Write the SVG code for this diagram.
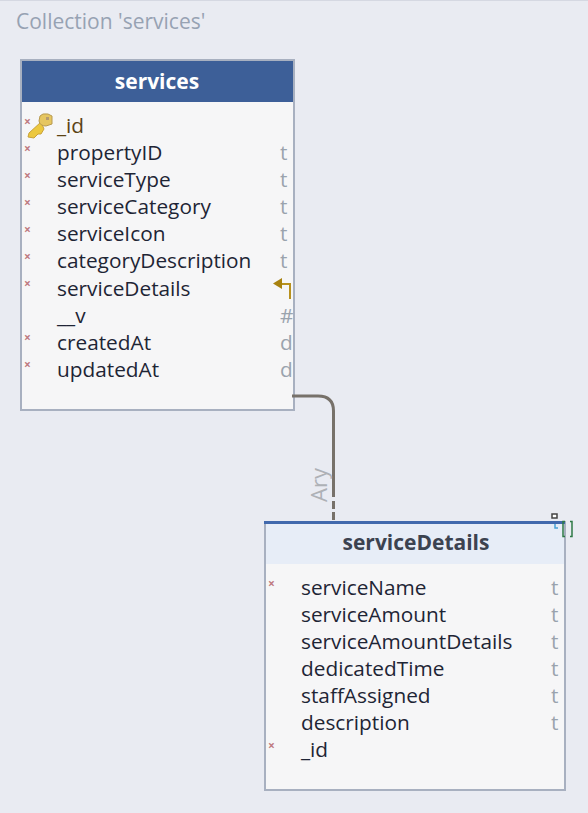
<svg xmlns="http://www.w3.org/2000/svg" width="588" height="813" viewBox="0 0 588 813">
<style>
text{font-family:"Open Sans","Noto Sans","Liberation Sans",sans-serif}
.f{font-size:20.800px;fill:#1e2535}
.t{font-size:20.800px;fill:#9aa3ad}
.x{font-size:12px;font-weight:700;fill:#bf7a82}
.box{fill:#f6f6f7;stroke:#a8b0c0;stroke-width:2}
</style>
<rect width="588" height="813" fill="#e9ebf2"/>
<rect x="0" y="0" width="588" height="1" fill="#d5d8e2"/>
<text x="16" y="29" font-size="21" fill="#97a2b3">Collection 'services'</text>
<g id="services">
<rect class="box" x="21" y="60" width="273" height="350"/>
<rect x="22" y="61" width="271" height="41" fill="#3d5f98"/>
<text x="157" y="89" text-anchor="middle" font-size="21" font-weight="700" fill="#fff">services</text>
<g id="key">
<path d="M41 122L29 133L28 137L34 138L38 134L41 134L44 129Z" fill="#ecc83f" stroke="#c9a23a" stroke-width="1"/>
<path d="M40 116Q42 113 48 114L52 116L52 124L46 126Q40 126 39 121Z" fill="#e6c660" stroke="#b89a50" stroke-width="1"/>
<rect x="46" y="117" width="3" height="3" fill="#b59a70"/>
</g>
<text class="x" x="24" y="126">×</text>
<text class="x" x="24" y="153">×</text>
<text class="x" x="24" y="180">×</text>
<text class="x" x="24" y="207">×</text>
<text class="x" x="24" y="234">×</text>
<text class="x" x="24" y="261">×</text>
<text class="x" x="24" y="288">×</text>
<text class="x" x="24" y="342">×</text>
<text class="x" x="24" y="369">×</text>
<text class="f" x="57" y="133" style="fill:#5b4315">_id</text>
<text class="f" x="57" y="160">propertyID</text>
<text class="f" x="57" y="187">serviceType</text>
<text class="f" x="57" y="214">serviceCategory</text>
<text class="f" x="57" y="241">serviceIcon</text>
<text class="f" x="57" y="268">categoryDescription</text>
<text class="f" x="57" y="296">serviceDetails</text>
<text class="f" x="57" y="323">__v</text>
<text class="f" x="57" y="350">createdAt</text>
<text class="f" x="57" y="377">updatedAt</text>
<text class="t" x="280" y="160">t</text>
<text class="t" x="280" y="187">t</text>
<text class="t" x="280" y="214">t</text>
<text class="t" x="280" y="241">t</text>
<text class="t" x="280" y="268">t</text>
<text class="t" x="280" y="323">#</text>
<text class="t" x="280" y="350">d</text>
<text class="t" x="280" y="377">d</text>
<path d="M290 299V284H281" fill="none" stroke="#b8911e" stroke-width="2"/>
<path d="M273 283.500L282 278V289Z" fill="#a8820f"/>
</g>
<g id="serviceDetails">
<rect class="box" x="265" y="522" width="300" height="268"/>
<rect x="266" y="523" width="298" height="41" fill="#e7edf7"/>
<path d="M264 522.500H565" stroke="#4169ad" stroke-width="3"/>
<text x="416" y="550" text-anchor="middle" font-size="21" font-weight="700" fill="#3c4350">serviceDetails</text>
<text class="x" x="268" y="588">×</text>
<text class="x" x="268" y="750">×</text>
<text class="f" x="301" y="595">serviceName</text>
<text class="f" x="301" y="622">serviceAmount</text>
<text class="f" x="301" y="649">serviceAmountDetails</text>
<text class="f" x="301" y="676">dedicatedTime</text>
<text class="f" x="301" y="703">staffAssigned</text>
<text class="f" x="301" y="730">description</text>
<text class="f" x="301" y="757">_id</text>
<text class="t" x="551" y="595">t</text>
<text class="t" x="551" y="622">t</text>
<text class="t" x="551" y="649">t</text>
<text class="t" x="551" y="676">t</text>
<text class="t" x="551" y="703">t</text>
<text class="t" x="551" y="730">t</text>
<rect x="552" y="514" width="5" height="4" fill="#fff" stroke="#444" stroke-width="1.500"/>
<path d="M555 524V528H558" fill="none" stroke="#4aa3d8" stroke-width="1.500"/>
<path d="M565 521.500H563V536.500H565M570 521.500H572V536.500H570" fill="none" stroke="#2f7a46" stroke-width="1.500"/>
</g>
<g id="connectors">
<path d="M292 396H318Q333.500 396 333.500 411V497" fill="none" stroke="#77716a" stroke-width="3"/>
<path d="M333.500 501V520" fill="none" stroke="#77716a" stroke-width="3" stroke-dasharray="8 3"/>
<text transform="translate(327 502) rotate(-90)" font-size="22" fill="#aeb1b6">Ary</text>
</g>
</svg>
